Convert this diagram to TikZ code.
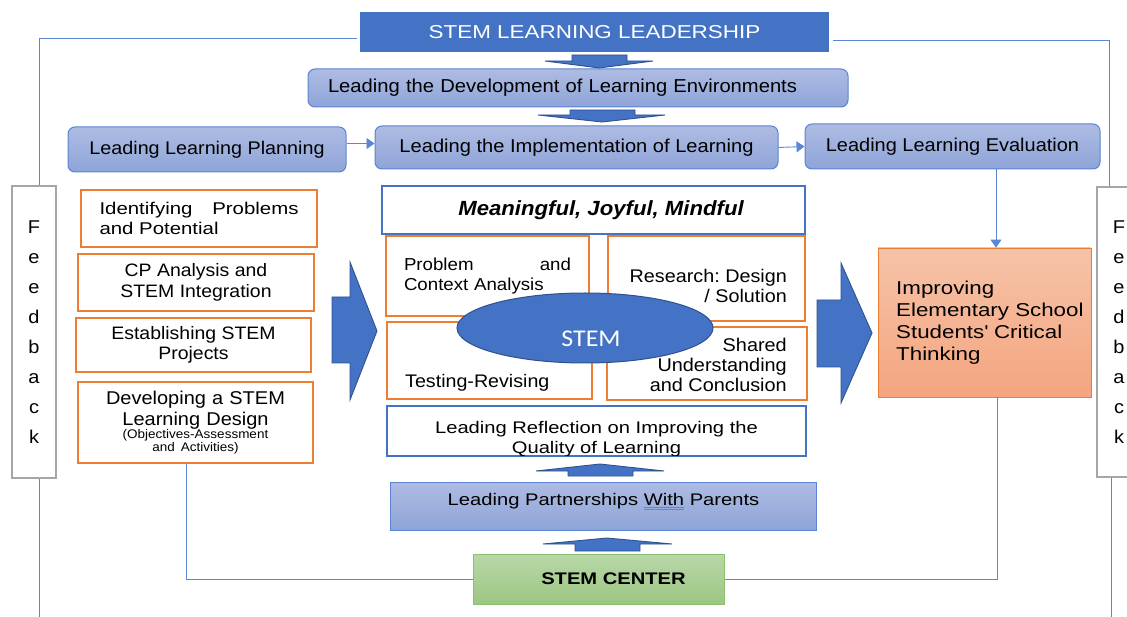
\documentclass[tikz,border=0pt]{standalone}
\usepackage{fontspec}
\setmainfont{Liberation Sans}[FakeStretch=1.08]
\newfontfamily\widefont{Liberation Sans}[FakeStretch=1.2]
\newfontfamily\stemfont{Carlito}[FakeStretch=1.08]
\usetikzlibrary{arrows.meta,shapes.geometric}
\frenchspacing

\definecolor{stemblue}{HTML}{4472C4}
\definecolor{arrowedge}{HTML}{2F528F}
\definecolor{ldtop}{HTML}{AEBCE3}
\definecolor{ldbot}{HTML}{8EA4D8}
\definecolor{ldline}{HTML}{5B83D3}
\definecolor{stemorange}{HTML}{ED7D31}
\definecolor{fbgray}{HTML}{A6A6A6}
\definecolor{fbblue}{HTML}{5B86D6}
\definecolor{imptop}{HTML}{F6C3A8}
\definecolor{impbot}{HTML}{F4A57F}
\definecolor{cntop}{HTML}{B8D8A8}
\definecolor{cnbot}{HTML}{9CC683}
\definecolor{cnline}{HTML}{8DC06E}

\newcommand{\fsz}[2]{\fontsize{#1}{#2}\selectfont}
\newcommand{\gramline}[1]{\sbox0{#1}%
  \rlap{\textcolor{fbblue}{\rule[-2pt]{\wd0}{0.6pt}}}%
  \rlap{\textcolor{fbblue}{\rule[-4pt]{\wd0}{0.6pt}}}\usebox0}

\tikzset{
  leadbox/.style={draw=ldline, line width=1pt, rounded corners=7pt,
    top color=ldtop, bottom color=ldbot, inner sep=0pt},
  partbox/.style={leadbox, sharp corners},
  stepbox/.style={draw=stemorange, line width=1.8pt, fill=white, inner sep=0pt},
  rimbox/.style={draw=stemblue, line width=1.5pt, fill=white, inner sep=0pt},
  fbbox/.style={draw=fbgray, line width=1.8pt, fill=white, inner sep=0pt},
  fbline/.style={draw=fbblue, line width=0.9pt},
  flow/.style={fbline, -{Triangle[length=8pt,width=11pt]}},
  blockarrow/.style={fill=stemblue, draw=arrowedge, line width=0.9pt},
  txt/.style={inner sep=0pt},
}

\begin{document}
\begin{tikzpicture}[x=1pt,y=-1pt]
  \useasboundingbox (0,0) rectangle (1127,617);

  % top of the hierarchy
  \node[fill=stemblue, minimum width=469pt, minimum height=40pt, inner sep=0pt,
    text=white, font=\widefont\fsz{18.7}{22}] (title) at (594.5,32) {STEM LEARNING LEADERSHIP};
  \node[leadbox, minimum width=540pt, minimum height=38pt, text width=500pt,
    align=left, font=\fsz{18.7}{22}] (develop) at (578,88) {Leading the Development of Learning Environments};
  \node[leadbox, minimum width=278pt, minimum height=45pt, font=\fsz{18.3}{22}] (plan) at (207,149.5) {Leading Learning Planning};
  \node[leadbox, minimum width=403pt, minimum height=43pt, font=\fsz{18.6}{22}] (impl) at (576.5,147.5) {Leading the Implementation of Learning};
  \node[leadbox, minimum width=295pt, minimum height=45pt, font=\fsz{18.5}{22}] (eval) at (952.5,146.5) {Leading Learning Evaluation};

  \draw[blockarrow] (572,55) -- (627,55) -- (627,61) -- (653,61) -- (599,68) -- (545,61) -- (572,61) -- cycle;
  \draw[blockarrow] (570,110) -- (635,110) -- (635,115) -- (665,115) -- (602,122) -- (538,115) -- (570,115) -- cycle;
  \draw[flow] ([yshift=6pt]plan.east) -- ([yshift=4pt]impl.west);
  \draw[flow] (impl.east) -- (eval.west);

  % feedback frames
  \node[fbbox, minimum width=44pt, minimum height=292pt, align=center, font=\fsz{18.5}{30}] (fbL) at (34,332) {F\\e\\e\\d\\b\\a\\c\\k};
  \node[fbbox, minimum width=44pt, minimum height=290pt, align=center, font=\fsz{18.5}{30}] (fbR) at (1119,332) {F\\e\\e\\d\\b\\a\\c\\k};
  \draw[fbline] ([xshift=-3pt,yshift=-6pt]title.west) -| ([xshift=5pt]fbL.north);
  \draw[fbline] ([xshift=5pt]fbL.south) -- ++(0,145);
  \draw[fbline] ([xshift=4pt,yshift=-8pt]title.east) -| ([xshift=-10pt]fbR.north);
  \draw[fbline] ([xshift=-8pt]fbR.south) -- ++(0,145);

  % planning steps
  \node[stepbox, minimum width=236pt, minimum height=57pt, text width=199pt, align=left,
    font=\widefont\fsz{17}{20}] (ident) at (199,218.5) {Identifying\hfill Problems\\and Potential};
  \node[stepbox, minimum width=236pt, minimum height=57pt, align=center, font=\fsz{18}{21}] (cpa) at (196,282.5) {CP Analysis and\\STEM Integration};
  \node[stepbox, minimum width=235pt, minimum height=54pt, align=center, font=\fsz{18}{20}] (estab) at (193.5,345) {Establishing STEM\\Projects};
  \node[stepbox, minimum width=235pt, minimum height=81pt, text width=220pt, align=center,
    font=\fsz{18.5}{20.5}] (devel) at (195.5,422.5)
    {Developing a STEM\\Learning Design\par{\fsz{12.5}{13}(Objectives-Assessment\\and Activities)\par}};

  \draw[blockarrow] (332,297) -- (350,297) -- (350,262) -- (377,331) -- (350,400) -- (350,363) -- (332,363) -- cycle;

  % implementation cycle
  \node[rimbox, minimum width=423pt, minimum height=48pt, font=\bfseries\itshape\fsz{20.5}{24}] (mjm) at (593.5,210) {\hspace*{15pt}Meaningful, Joyful, Mindful};
  \node[stepbox, minimum width=203pt, minimum height=80pt, text width=167pt, align=left,
    font=\fsz{17.3}{20}] (prob) at (487.5,276) {Problem\hfill and\\Context Analysis};
  \node[stepbox, minimum width=197pt, minimum height=85pt] (research) at (706.5,278.5) {};
  \node[stepbox, minimum width=205pt, minimum height=77pt] (test) at (489.5,360.5) {};
  \node[stepbox, minimum width=200pt, minimum height=73pt] (shared) at (707,363.5) {};
  \node[txt, anchor=east, align=right, font=\fsz{18.3}{19.5}] (research-t) at (787,286) {Research: Design\\/ Solution};
  \node[txt, anchor=west, font=\fsz{18.2}{20}] (test-t) at (405,383) {Testing-Revising};
  \node[txt, anchor=east, align=right, font=\fsz{18.4}{20}] (shared-t) at (787,365) {Shared\\Understanding\\and Conclusion};
  \node[ellipse, fill=stemblue, draw=arrowedge, line width=1pt, minimum width=256pt,
    minimum height=70pt, inner sep=0pt] (stem) at (585,328) {};
  \node[txt, text=white, font=\stemfont\fsz{24}{28}] (stem-t) at (591,338.5) {STEM};

  \node[rimbox, minimum width=419pt, minimum height=50pt] (reflect) at (596.5,431) {};
  \begin{scope}
    \clip ([shift={(1pt,1pt)}]reflect.south west) rectangle ([shift={(-1pt,-1pt)}]reflect.north east);
    \node[txt, align=center, font=\widefont\fsz{16.8}{20}] (reflect-t) at (596.5,439.5) {Leading Reflection on Improving the\\Quality of Learning};
  \end{scope}

  % support from below
  \draw[blockarrow] (568,476) -- (633,476) -- (633,471) -- (664,471) -- (600,464) -- (536,471) -- (568,471) -- cycle;
  \node[partbox, minimum width=426pt, minimum height=48pt] (partner) at (603,506) {};
  \node[txt, font=\widefont\fsz{16.8}{20}] (partner-t) at (603.5,501.5) {Leading Partnerships \gramline{With} Parents};
  \draw[blockarrow] (575,551) -- (640,551) -- (640,544) -- (672,544) -- (607,538) -- (543,544) -- (575,544) -- cycle;
  \node[draw=cnline, line width=1pt, top color=cntop, bottom color=cnbot, minimum width=251pt,
    minimum height=50pt, inner sep=0pt, font=\widefont\bfseries\fsz{16.8}{20}] (center) at (598.5,579) {\hspace*{30pt}STEM CENTER};

  % outcome
  \draw[blockarrow] (817,300) -- (841,300) -- (841,263) -- (872,333) -- (841,403) -- (841,367) -- (817,367) -- cycle;
  \node[draw=stemorange, line width=0.8pt, top color=imptop, bottom color=impbot, minimum width=213pt,
    minimum height=149pt, inner sep=0pt] (improve) at (984.5,322.5) {};
  \node[txt, anchor=west, align=left, font=\widefont\fsz{18.6}{22}] (improve-t) at (896,323)
    {Improving\\Elementary School\\Students\textquotesingle{} Critical\\Thinking};
  \draw[flow] ([xshift=43.5pt]eval.south) -- ([xshift=11.5pt]improve.north);

  \draw[fbline] ([xshift=-9pt]devel.south) |- (center.west);
  \draw[fbline] ([xshift=12.5pt]improve.south) |- (center.east);
\end{tikzpicture}
\end{document}
